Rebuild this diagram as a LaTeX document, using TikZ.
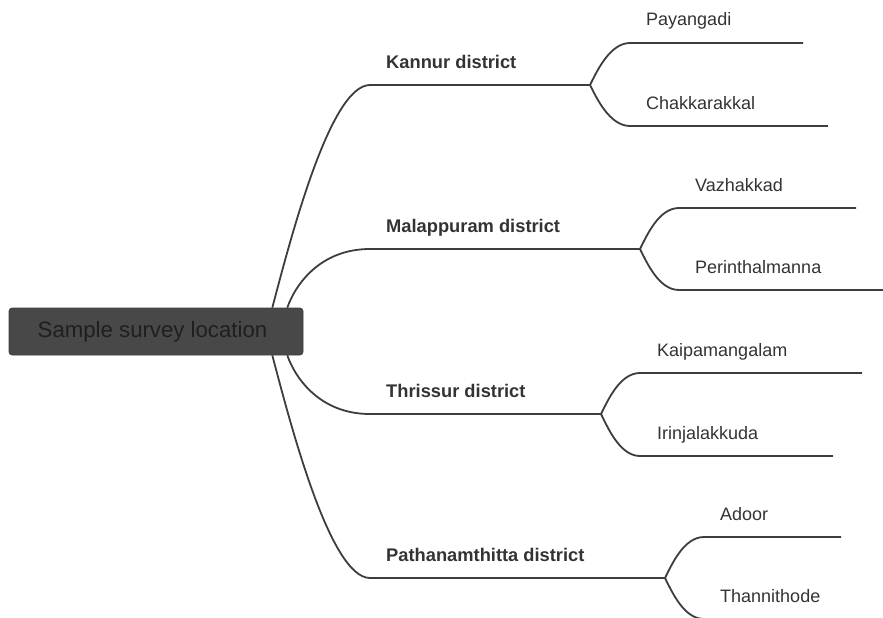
\documentclass[tikz,border=0pt]{standalone}
\usepackage{fontspec}
\setmainfont{Liberation Sans}
\definecolor{linec}{HTML}{3D3D3D}
\definecolor{txt}{HTML}{333333}
\definecolor{rootc}{HTML}{484848}
\definecolor{roottxt}{HTML}{1F1F1F}
\begin{document}
\begin{tikzpicture}[x=1pt,y=-1pt,
  conn/.style={draw=linec, line width=1.8pt},
  dist/.style={font=\fontsize{18.3}{18}\selectfont\bfseries, text=txt, anchor=base west, inner sep=0pt},
  leaf/.style={font=\fontsize{18}{18}\selectfont, text=txt, anchor=base west, inner sep=0pt},
  rootbox/.style={rectangle, rounded corners=3pt, fill=rootc, draw=rootc!85!black, line width=0.6pt,
    minimum width=294pt, minimum height=47pt, inner sep=0pt,
    font=\fontsize{22.2}{22}\selectfont, text=roottxt}]
\useasboundingbox (0,0) rectangle (883,618);

% district coordinates
\coordinate (kanS) at (370,85);  \coordinate (kanF) at (590,85);
\coordinate (malS) at (370,249); \coordinate (malF) at (640,249);
\coordinate (thrS) at (370,414); \coordinate (thrF) at (601,414);
\coordinate (patS) at (370,578); \coordinate (patF) at (665,578);

% leaf coordinates
\coordinate (payS) at (630,43);  \coordinate (payE) at (803,43);
\coordinate (chaS) at (630,126); \coordinate (chaE) at (828,126);
\coordinate (vazS) at (679,208); \coordinate (vazE) at (856,208);
\coordinate (perS) at (679,290); \coordinate (perE) at (896,290);
\coordinate (kaiS) at (640,373); \coordinate (kaiE) at (862,373);
\coordinate (iriS) at (640,456); \coordinate (iriE) at (833,456);
\coordinate (adoS) at (704,537); \coordinate (adoE) at (841,537);
\coordinate (thaS) at (704,619); \coordinate (thaE) at (894,619);

% root
\node[rootbox] (root) at (156,331.5) {\hspace*{-7pt}Sample survey location};

% main connectors
\draw[conn] ([xshift=-31pt]root.north east) .. controls +(18,-68) and +(-40,0) .. (kanS) -- (kanF);
\draw[conn] ([xshift=-16pt]root.north east) .. controls +(8,-23) and +(-50,0) .. (malS) -- (malF);
\draw[conn] ([xshift=-16pt]root.south east) .. controls +(8,23) and +(-50,0) .. (thrS) -- (thrF);
\draw[conn] ([xshift=-31pt]root.south east) .. controls +(18,68) and +(-40,0) .. (patS) -- (patF);

% sub connectors
\draw[conn] (kanF) .. controls +(7,-14) and +(-20,0) .. (payS) -- (payE);
\draw[conn] (kanF) .. controls +(7,14) and +(-20,0) .. (chaS) -- (chaE);
\draw[conn] (malF) .. controls +(7,-14) and +(-20,0) .. (vazS) -- (vazE);
\draw[conn] (malF) .. controls +(7,14) and +(-20,0) .. (perS) -- (perE);
\draw[conn] (thrF) .. controls +(7,-14) and +(-20,0) .. (kaiS) -- (kaiE);
\draw[conn] (thrF) .. controls +(7,14) and +(-20,0) .. (iriS) -- (iriE);
\draw[conn] (patF) .. controls +(7,-14) and +(-20,0) .. (adoS) -- (adoE);
\draw[conn] (patF) .. controls +(7,14) and +(-20,0) .. (thaS) -- (thaE);

% labels
\node[dist] (kan) at (386,68) {Kannur district};
\node[dist] (mal) at (386,232) {Malappuram district};
\node[dist] (thr) at (386,397) {Thrissur district};
\node[dist] (pat) at (386,561) {Pathanamthitta district};

\node[leaf] (pay) at (646,26) {Payangadi};
\node[leaf] (cha) at (646,109) {Chakkarakkal};
\node[leaf] (vaz) at (695,191) {Vazhakkad};
\node[leaf] (per) at (695,273) {Perinthalmanna};
\node[leaf] (kai) at (657,356) {Kaipamangalam};
\node[leaf] (iri) at (657,439) {Irinjalakkuda};
\node[leaf] (ado) at (720,520) {Adoor};
\node[leaf] (tha) at (720,602) {Thannithode};
\end{tikzpicture}
\end{document}
